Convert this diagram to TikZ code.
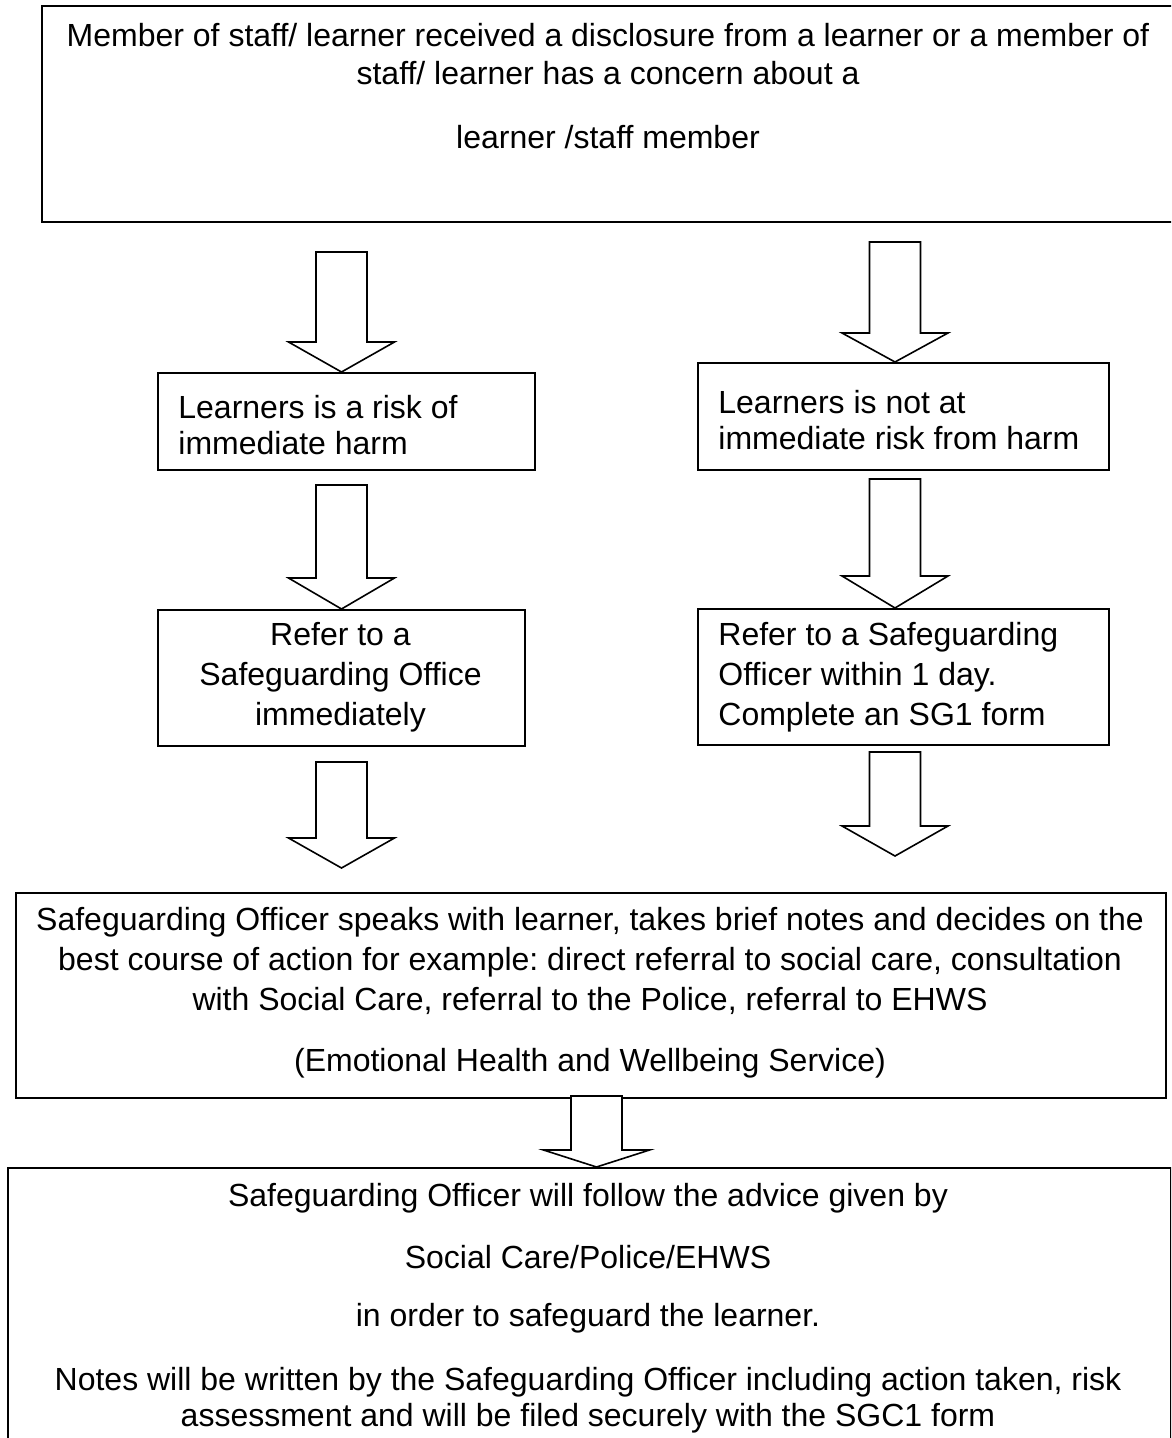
\documentclass[tikz,border=0pt]{standalone}
\usepackage{fontspec}
\setmainfont{Liberation Sans}
\usetikzlibrary{calc,positioning}
\frenchspacing

% hollow block arrow: start, tip, head length
\newcommand{\blockarrow}[3]{%
  \coordinate (bs) at (#1);
  \coordinate (bt) at (#2);
  \draw[barrow] ($(bs)+(-25.5,0)$) -- ($(bt)+(-25.5,-#3)$) -- ($(bt)+(-53,-#3)$) -- (bt)
    -- ($(bt)+(53,-#3)$) -- ($(bt)+(25.5,-#3)$) -- ($(bs)+(25.5,0)$) -- cycle;}

\begin{document}
\begin{tikzpicture}[x=0.5pt,y=-0.5pt,
  box/.style={draw,line width=1pt,inner sep=0pt,anchor=north west},
  txt/.style={inner sep=0pt,font=\fontsize{16}{18}\selectfont},
  barrow/.style={draw,fill=white,line width=0.8pt,line join=miter}]
  \useasboundingbox (0,0) rectangle (1171,1438);
  \clip (0,0) rectangle (1171,1438);
  % boxes
  \node[box,minimum width=572pt,minimum height=108pt] (concern) at (41,5) {};
  \node[box,minimum width=188.5pt,minimum height=48.5pt] (immed) at (157,372) {};
  \node[box,minimum width=205.5pt,minimum height=53.5pt] (notimmed) at (697,362) {};
  \node[box,minimum width=183.5pt,minimum height=68pt] (refernow) at (157,609) {};
  \node[box,minimum width=205.5pt,minimum height=68pt] (referday) at (697,608) {};
  \node[box,minimum width=575pt,minimum height=102.5pt] (officer) at (15,892) {};
  \node[box,minimum width=581.5pt,minimum height=150pt] (advice) at (7,1167) {};
  % texts
  \node[txt,align=center,font=\fontsize{16}{19}\selectfont] (concerntxt) at (608,86)
    {Member of staff/ learner received a disclosure from a learner or a member of\\
     staff/ learner has a concern about a\\[13pt] learner /staff member};
  \node[txt,align=left,anchor=west] (immedtxt) at (178,425)
    {Learners is a risk of\\ immediate harm};
  \node[txt,align=left,anchor=west] (notimmedtxt) at (718,420)
    {Learners is not at\\ immediate risk from harm};
  \node[txt,align=center,font=\fontsize{16}{20}\selectfont] (refernowtxt) at (340.5,677.5)
    {Refer to a\\ Safeguarding Office\\ immediately};
  \node[txt,align=left,anchor=west,font=\fontsize{16}{20}\selectfont] (referdaytxt) at (718,677.5)
    {Refer to a Safeguarding\\ Officer within 1 day.\\ Complete an SG1 form};
  \node[txt,align=center,font=\fontsize{16}{20}\selectfont] (officertxt) at (590,992.5)
    {Safeguarding Officer speaks with learner, takes brief notes and decides on the\\
     best course of action for example: direct referral to social care, consultation\\
     with Social Care, referral to the Police, referral to EHWS\\[10.5pt]
     (Emotional Health and Wellbeing Service)};
  \node[txt,align=center] (advicetxt) at (588,1308)
    {Safeguarding Officer will follow the advice given by\\[13pt]
     Social Care/Police/EHWS\\[11pt]
     in order to safeguard the learner.\\[14pt]
     Notes will be written by the Safeguarding Officer including action taken, risk\\
     assessment and will be filed securely with the SGC1 form};
  % arrows
  \coordinate (a1) at (341.5,252);
  \coordinate (a2) at (895,242);
  \coordinate (a3) at (341.5,485);
  \coordinate (a4) at (895,479);
  \coordinate (a5) at (341.5,762);
  \coordinate (e5) at (341.5,868);
  \coordinate (a6) at (895,752);
  \coordinate (e6) at (895,856);
  \coordinate (a7) at (596.5,1096);
  \blockarrow{a1}{a1 |- immed.north}{30}
  \blockarrow{a2}{a2 |- notimmed.north}{29}
  \blockarrow{a3}{a3 |- refernow.north}{31}
  \blockarrow{a4}{a4 |- referday.north}{32}
  \blockarrow{a5}{e5}{30}
  \blockarrow{a6}{e6}{30}
  \blockarrow{a7}{a7 |- advice.north}{17}
\end{tikzpicture}
\end{document}
